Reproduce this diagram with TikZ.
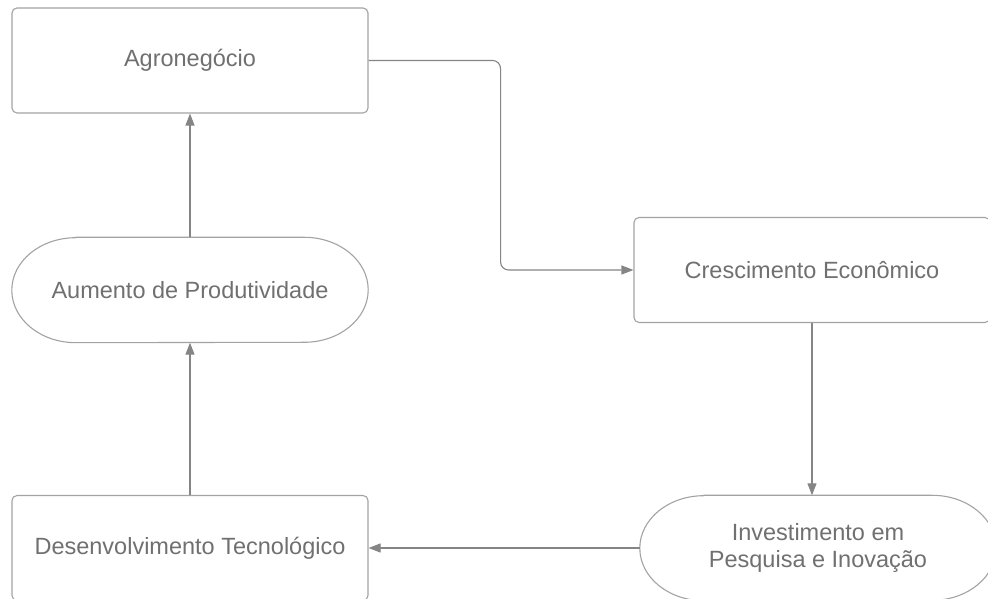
\documentclass[tikz,border=0pt]{standalone}
\usepackage{fontspec}
\setmainfont{Liberation Sans}
\usetikzlibrary{arrows.meta}
\definecolor{txtc}{HTML}{707070}
\definecolor{boxc}{HTML}{A3A3A3}
\definecolor{arrc}{HTML}{858585}
\tikzset{
  lbl/.style={text=txtc, font=\fontsize{23.5}{27}\selectfont, align=center, inner sep=0pt},
  boxnode/.style={lbl, draw=boxc, line width=1.1pt, rounded corners=5pt, minimum width=356pt, minimum height=105pt},
  termnode/.style={lbl, minimum width=356pt, minimum height=105pt},
  termline/.style={draw=boxc, line width=1.1pt},
  conn/.style={draw=arrc, line width=1.1pt, -{Triangle[length=12pt,width=9pt]}},
}
\begin{document}
\begin{tikzpicture}[x=1pt,y=1pt]
\useasboundingbox[fill=white] (0,0) rectangle (988,599);
% nodes
\node[boxnode] (agro) at (190,538.5) {Agronegócio};
\node[termnode] (aum) at (190,309) {Aumento de Produtividade};
\node[boxnode] (dev) at (190,51) {Desenvolvimento Tecnológico};
\node[boxnode] (cre) at (812,329) {Crescimento Econômico};
\node[termnode] (inv) at (818,51) {Investimento em\\Pesquisa e Inovação};
% terminator outlines
\foreach \n in {aum,inv}{
  \draw[termline] ([xshift=64pt]\n.north west) -- ([xshift=-64pt]\n.north east)
    arc[start angle=90,end angle=-90,x radius=64pt,y radius=52.5pt]
    -- ([xshift=64pt]\n.south west)
    arc[start angle=270,end angle=90,x radius=64pt,y radius=52.5pt] -- cycle;
}
% connectors
\draw[conn] (aum.north) -- (agro.south);
\draw[conn] (dev.north) -- (aum.south);
\draw[conn, rounded corners=8pt] (agro.east) -- ++(132,0) |- (cre.west);
\draw[conn] (cre.south) -- (cre.south |- inv.north);
\draw[conn] (inv.west) -- (dev.east);
\end{tikzpicture}
\end{document}
